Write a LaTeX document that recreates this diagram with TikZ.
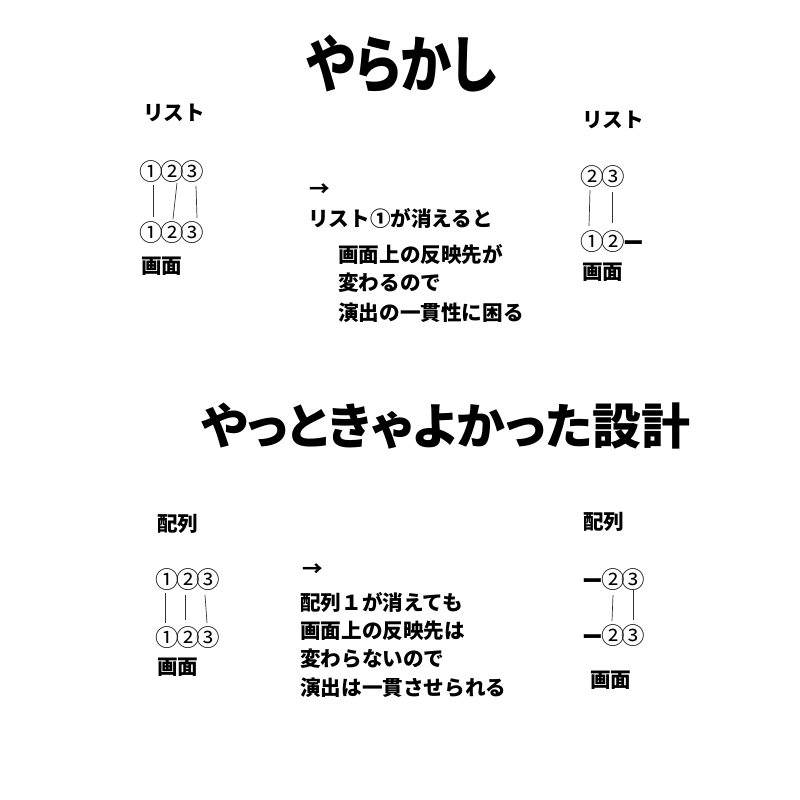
\documentclass[tikz,border=0pt]{standalone}
\usepackage{fontspec}
\usepackage{graphicx}
\setmainfont{Noto Sans CJK JP}
\newfontfamily\jptitle{Noto Sans CJK JP}[RawFeature=+palt]
\newcommand{\cdg}[1]{{\fontsize{23.5}{24}\selectfont\mdseries\raisebox{-0.6pt}{#1}}}
\newcommand{\cgap}{\kern-3pt}
\begin{document}
\begin{tikzpicture}[x=1pt,y=-1pt,
  txt/.style={anchor=west,inner sep=0pt,font=\fontsize{20.6}{24}\selectfont\bfseries},
  ttl/.style={inner sep=0pt},
  link/.style={line width=0.7pt,black!80}]
\useasboundingbox[fill=white] (0,0) rectangle (800,800);
% titles
\node[ttl,font=\jptitle\fontsize{62}{70}\selectfont\bfseries] (t1) at (402,64) {\scalebox{0.83}[1]{やらかし}};
\node[ttl,font=\jptitle\fontsize{49}{54}\selectfont\bfseries] (t2) at (446,426) {やっときゃよかった設計};
% top left
\node[txt] (tl1) at (143,113) {リスト};
\node[txt] (tl2) at (139.5,172) {\cdg{①}\cgap\cdg{②}\cgap\cdg{③}};
\node[txt] (tl3) at (139.5,233) {\cdg{①}\cgap\cdg{②}\cgap\cdg{③}};
\node[txt] (tl4) at (141,266) {画面};
\coordinate (a1) at (153,185); \coordinate (b1) at (153,217);
\coordinate (a2) at (177,183); \coordinate (b2) at (173,219);
\coordinate (a3) at (196,186); \coordinate (b3) at (197,218);
\draw[link] (a1) -- (b1); \draw[link] (a2) -- (b2); \draw[link] (a3) -- (b3);
% top middle
\node[txt] (tm0) at (309,190) {→};
\node[txt] (tm1) at (308,218) {リスト①が消えると};
\node[txt] (tm2) at (338,254) {画面上の反映先が};
\node[txt] (tm3) at (338,283) {変わるので};
\node[txt] (tm4) at (338,313) {演出の一貫性に困る};
% top right
\node[txt] (tr1) at (582,120) {リスト};
\node[txt] (tr2) at (580.5,177) {\cdg{②}\cgap\cdg{③}};
\node[txt] (tr3) at (580.5,242) {\cdg{①}\cgap\cdg{②}\kern-1pt ー};
\node[txt] (tr4) at (582,272) {画面};
\coordinate (c1) at (590,190); \coordinate (d1) at (589,226);
\coordinate (c2) at (612,192); \coordinate (d2) at (612,223);
\draw[link] (c1) -- (d1); \draw[link] (c2) -- (d2);
% bottom left
\node[txt] (bl1) at (157,524) {配列};
\node[txt] (bl2) at (155.5,580) {\cdg{①}\cgap\cdg{②}\cgap\cdg{③}};
\node[txt] (bl3) at (155.5,638) {\cdg{①}\cgap\cdg{②}\cgap\cdg{③}};
\node[txt] (bl4) at (157,667) {画面};
\coordinate (e1) at (165,593); \coordinate (f1) at (165,623);
\coordinate (e2) at (185,595); \coordinate (f2) at (185,620);
\coordinate (e3) at (205,595); \coordinate (f3) at (207,623);
\draw[link] (e1) -- (f1); \draw[link] (e2) -- (f2); \draw[link] (e3) -- (f3);
% bottom middle
\node[txt] (bm0) at (302,570) {→};
\node[txt] (bm1) at (300,602) {配列１が消えても};
\node[txt] (bm2) at (300,631) {画面上の反映先は};
\node[txt] (bm3) at (300,659) {変わらないので};
\node[txt] (bm4) at (300,688) {演出は一貫させられる};
% bottom right
\node[txt] (br1) at (583,522) {配列};
\node[txt] (br2) at (582,580) {ー\kern-1.5pt\cdg{②}\cgap\cdg{③}};
\node[txt] (br3) at (582,636) {ー\kern-1.5pt\cdg{②}\cgap\cdg{③}};
\node[txt] (br4) at (590,680) {画面};
\coordinate (g1) at (613,595); \coordinate (h1) at (612,621);
\coordinate (g2) at (633,590); \coordinate (h2) at (633,620);
\draw[link] (g1) -- (h1); \draw[link] (g2) -- (h2);
\end{tikzpicture}
\end{document}
